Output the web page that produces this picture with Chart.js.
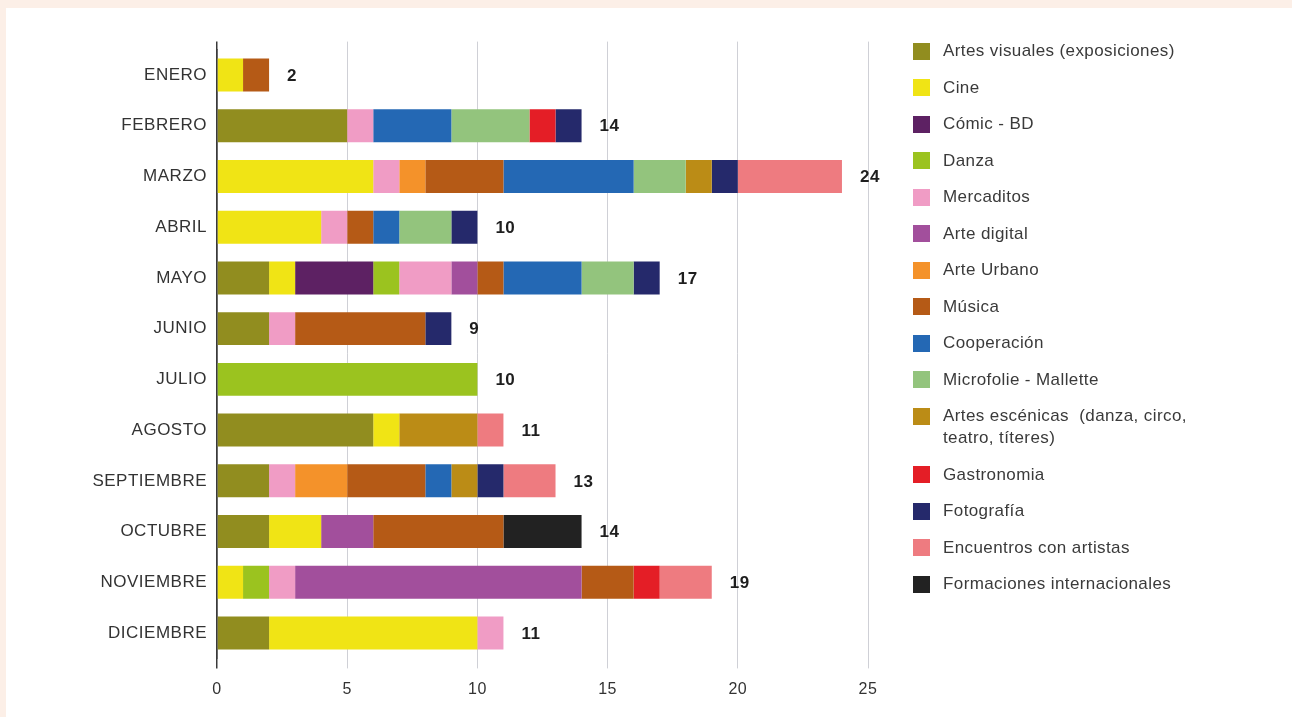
<!DOCTYPE html>
<html lang="es">
<head>
<meta charset="utf-8">
<title>Actividades por mes</title>
<script src="https://cdn.jsdelivr.net/npm/chart.js@4.4.1/dist/chart.umd.min.js"></script>
<style>
  html, body { margin: 0; padding: 0; }
  body { width: 1292px; height: 717px; background: #fcefe7; position: relative; overflow: hidden;
         font-family: "Liberation Sans", Arial, sans-serif; }
  #panel { position: absolute; left: 6px; top: 8px; right: 0; bottom: 0; background: #ffffff; }
  #wrap { position: absolute; left: 0; top: 0; width: 1292px; height: 717px; }
  #legend { position: absolute; left: 913px; top: 40px; margin: 0; padding: 0; list-style: none;
            font-size: 17px; color: #3a3a3a; letter-spacing: 0.4px; }
  #legend li { display: flex; align-items: flex-start; line-height: 22px; margin-bottom: 14.5px; }
  #legend .sw { width: 17px; height: 17px; margin-top: 2.5px; margin-right: 13px; flex: none; }
  #legend .tx { white-space: pre-wrap; }
</style>
</head>
<body>
<div id="panel"></div>
<div id="wrap"><canvas id="chart" width="1292" height="717"></canvas></div>
<ul id="legend"></ul>
<script>
// Months (categories)
const months = ['ENERO', 'FEBRERO', 'MARZO', 'ABRIL', 'MAYO', 'JUNIO', 'JULIO',
                'AGOSTO', 'SEPTIEMBRE', 'OCTUBRE', 'NOVIEMBRE', 'DICIEMBRE'];

// Number of activities per month, one array per type
const artesVisuales  = [0, 5, 0, 0, 2, 2, 0, 6, 2, 2, 0, 2];
const cine           = [1, 0, 6, 4, 1, 0, 0, 1, 0, 2, 1, 8];
const comicBD        = [0, 0, 0, 0, 3, 0, 0, 0, 0, 0, 0, 0];
const danza          = [0, 0, 0, 0, 1, 0, 10, 0, 0, 0, 1, 0];
const mercaditos     = [0, 1, 1, 1, 2, 1, 0, 0, 1, 0, 1, 1];
const arteDigital    = [0, 0, 0, 0, 1, 0, 0, 0, 0, 2, 11, 0];
const arteUrbano     = [0, 0, 1, 0, 0, 0, 0, 0, 2, 0, 0, 0];
const musica         = [1, 0, 3, 1, 1, 5, 0, 0, 3, 5, 2, 0];
const cooperacion    = [0, 3, 5, 1, 3, 0, 0, 0, 1, 0, 0, 0];
const microfolie     = [0, 3, 2, 2, 2, 0, 0, 0, 0, 0, 0, 0];
const artesEscenicas = [0, 0, 1, 0, 0, 0, 0, 3, 1, 0, 0, 0];
const gastronomia    = [0, 1, 0, 0, 0, 0, 0, 0, 0, 0, 1, 0];
const fotografia     = [0, 1, 1, 1, 1, 1, 0, 0, 1, 0, 0, 0];
const encuentros     = [0, 0, 4, 0, 0, 0, 0, 1, 2, 0, 2, 0];
const formaciones    = [0, 0, 0, 0, 0, 0, 0, 0, 0, 3, 0, 0];

// Axis ticks
const xTicks = [0, 5, 10, 15, 20, 25];

// Series: label, values, colour (stacking order = legend order)
const series = [
  ['Artes visuales (exposiciones)', artesVisuales, '#918d1f'],
  ['Cine', cine, '#f0e415'],
  ['Cómic - BD', comicBD, '#5d2163'],
  ['Danza', danza, '#9bc31f'],
  ['Mercaditos', mercaditos, '#f09cc5'],
  ['Arte digital', arteDigital, '#a24f9c'],
  ['Arte Urbano', arteUrbano, '#f4922a'],
  ['Música', musica, '#b55a16'],
  ['Cooperación', cooperacion, '#2468b4'],
  ['Microfolie - Mallette', microfolie, '#93c47d'],
  ['Artes escénicas  (danza, circo,\nteatro, títeres)', artesEscenicas, '#bb8c16'],
  ['Gastronomia', gastronomia, '#e41e26'],
  ['Fotografía', fotografia, '#25296b'],
  ['Encuentros con artistas', encuentros, '#ee7b80'],
  ['Formaciones internacionales', formaciones, '#222222']
];

const totals = months.map((_, i) => series.reduce((s, d) => s + d[1][i], 0));

const FONT = '"Liberation Sans", Arial, sans-serif';

// Slightly wider glyph spacing for all canvas text
const spacingPlugin = {
  id: 'spacing',
  beforeDraw(chart) { chart.ctx.letterSpacing = '0.5px'; }
};

// Month totals written just past the end of each bar
const totalsPlugin = {
  id: 'totals',
  afterDatasetsDraw(chart) {
    const { ctx, scales } = chart;
    ctx.save();
    ctx.font = 'bold 17px ' + FONT;
    ctx.fillStyle = '#1e1e1e';
    ctx.textAlign = 'left';
    ctx.textBaseline = 'middle';
    totals.forEach((t, i) => {
      const x = scales.x.getPixelForValue(t) + 18;
      const y = scales.y.getPixelForValue(i);
      ctx.fillText(String(t), x, y + 1);
    });
    ctx.restore();
  }
};

const gridColor = (c) => (c.tick && c.tick.value === 0 ? '#3a3a3a' : '#cfd0d6');
const gridWidth = (c) => (c.tick && c.tick.value === 0 ? 1.5 : 1);

new Chart(document.getElementById('chart'), {
  type: 'bar',
  data: {
    labels: months,
    datasets: series.map(([label, data, color]) => ({
      label, data,
      backgroundColor: color,
      borderWidth: 0,
      barPercentage: 0.65,
      categoryPercentage: 1
    }))
  },
  options: {
    indexAxis: 'y',
    responsive: false,
    animation: false,
    layout: { padding: { top: 41.6, right: 424, bottom: 0, left: 0 } },
    plugins: { legend: { display: false }, tooltip: { enabled: false } },
    scales: {
      x: {
        position: 'bottom',
        stacked: true,
        min: 0, max: 25,
        afterBuildTicks: (s) => { s.ticks = xTicks.map(v => ({ value: v })); },
        afterFit: (s) => { s.height = 58.6; },
        grid: { color: gridColor, lineWidth: gridWidth, tickLength: 10, drawTicks: true },
        border: { display: false },
        ticks: { color: '#333333', font: { family: FONT, size: 16 }, padding: 12 }
      },
      xTop: {
        axis: 'x',
        position: 'top',
        min: 0, max: 25,
        afterBuildTicks: (s) => { s.ticks = xTicks.map(v => ({ value: v })); },
        afterFit: (s) => { s.height = 8; },
        grid: { color: gridColor, lineWidth: gridWidth, tickLength: 8, drawTicks: true, drawOnChartArea: false },
        border: { display: false },
        ticks: { display: false }
      },
      y: {
        stacked: true,
        afterFit: (s) => { s.width = 217; },
        grid: { display: false, drawTicks: false },
        border: { display: true, color: '#3a3a3a', width: 1.5 },
        ticks: { color: '#333333', font: { family: FONT, size: 17 }, padding: 10 }
      }
    }
  },
  plugins: [spacingPlugin, totalsPlugin]
});

// Legend beside the chart, built from the same series
const legend = document.getElementById('legend');
series.forEach(([label, , color]) => {
  const li = document.createElement('li');
  const sw = document.createElement('span');
  sw.className = 'sw';
  sw.style.background = color;
  const tx = document.createElement('span');
  tx.className = 'tx';
  tx.textContent = label;
  li.appendChild(sw);
  li.appendChild(tx);
  legend.appendChild(li);
});
</script>
</body>
</html>
